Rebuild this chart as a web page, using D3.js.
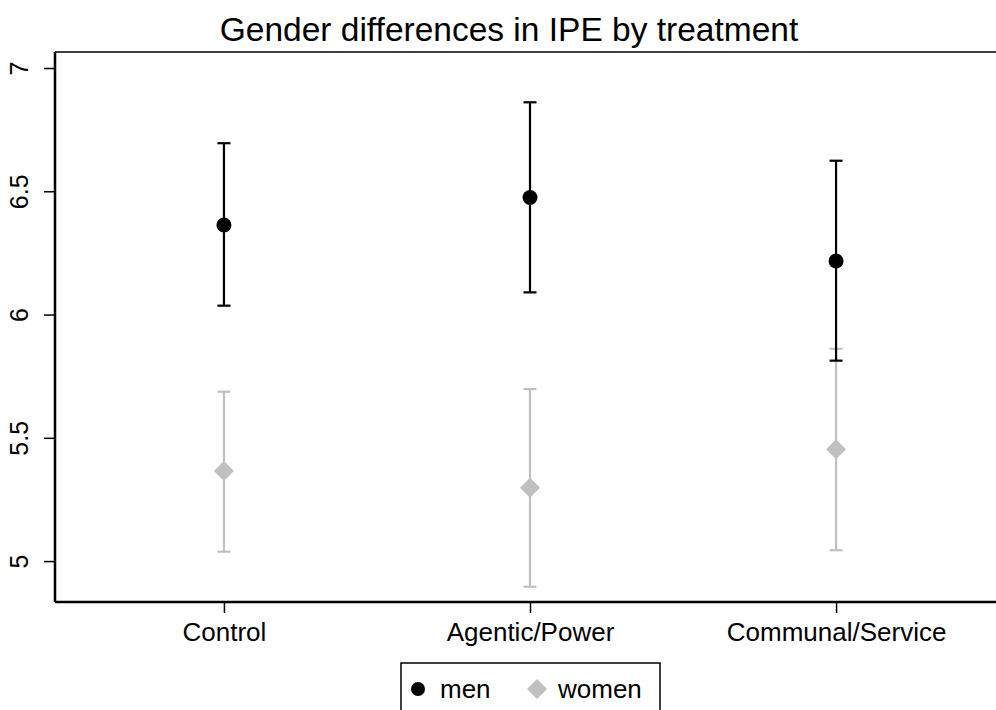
<!DOCTYPE html>
<html>
<head>
<meta charset="utf-8">
<script src="https://cdn.jsdelivr.net/npm/d3@7"></script>
<style>
  body { margin: 0; background: #fff; }
  text { font-family: "Liberation Sans", Arial, Helvetica, sans-serif; fill: #000; }
</style>
</head>
<body>
<div id="chart"></div>
<script>
///// Data

let categories = ["Control", "Agentic/Power", "Communal/Service"];

let menMean = [6.363, 6.475, 6.217],
    menLow = [6.036, 6.090, 5.813],
    menHigh = [6.695, 6.861, 6.624];

let womenMean = [5.365, 5.297, 5.454],
    womenLow = [5.038, 4.896, 5.044],
    womenHigh = [5.687, 5.698, 5.861];

let yTicks = [5, 5.5, 6, 6.5, 7];

///// Layout

let width = 996, height = 710;
let plot = { left: 55, right: 1005, top: 52, bottom: 602 };

let x = d3.scalePoint()
    .domain(categories)
    .range([plot.left, plot.right])
    .padding(0.552);

let y = d3.scaleLinear()
    .domain([4.834, 7.065])
    .range([plot.bottom, plot.top]);

let svg = d3.select("#chart")
    .append("svg")
    .attr("width", width)
    .attr("height", height);

// title
svg.append("text")
    .attr("x", 509)
    .attr("y", 41)
    .attr("text-anchor", "middle")
    .style("font-size", "33.5px")
    .text("Gender differences in IPE by treatment");

// top frame line
svg.append("line")
    .attr("x1", plot.left).attr("x2", width)
    .attr("y1", plot.top).attr("y2", plot.top)
    .attr("stroke", "#000").attr("stroke-width", 1.5);

// Y axis
let yAxis = svg.append("g")
    .attr("transform", "translate(" + plot.left + ",0)")
    .call(d3.axisLeft(y).tickValues(yTicks).tickSize(11).tickPadding(6).tickFormat(d3.format("")));
yAxis.select(".domain").attr("d", "M0," + plot.top + "V" + plot.bottom).attr("stroke-width", 2.5);
yAxis.selectAll(".tick line").attr("stroke-width", 1.5);
yAxis.selectAll(".tick text")
    .attr("x", null).attr("dy", null)
    .attr("transform", "translate(-27,0) rotate(-90)")
    .attr("text-anchor", "middle")
    .style("font-size", "25px");

// X axis
let xAxis = svg.append("g")
    .attr("transform", "translate(0," + plot.bottom + ")")
    .call(d3.axisBottom(x).tickSize(11).tickPadding(6));
xAxis.select(".domain").attr("d", "M" + plot.left + ",0H" + width).attr("stroke-width", 2.5);
xAxis.selectAll(".tick line").attr("stroke-width", 1.5);
xAxis.selectAll(".tick text")
    .attr("dy", null).attr("y", 39)
    .style("font-size", "26px");

///// Error bars and markers

let capHalf = 6.5;

function drawSeries(mean, low, high, color, cls) {
    let g = svg.append("g").attr("class", cls);
    let rows = categories.map(function(c, i) { return { c: c, m: mean[i], lo: low[i], hi: high[i] }; });

    g.selectAll(".bar").data(rows).enter().append("line")
        .attr("x1", function(d) { return x(d.c); })
        .attr("x2", function(d) { return x(d.c); })
        .attr("y1", function(d) { return y(d.lo); })
        .attr("y2", function(d) { return y(d.hi); })
        .attr("stroke", color).attr("stroke-width", 2.2);

    ["lo", "hi"].forEach(function(k) {
        g.selectAll(".cap" + k).data(rows).enter().append("line")
            .attr("x1", function(d) { return x(d.c) - capHalf; })
            .attr("x2", function(d) { return x(d.c) + capHalf; })
            .attr("y1", function(d) { return y(d[k]); })
            .attr("y2", function(d) { return y(d[k]); })
            .attr("stroke", color).attr("stroke-width", 2.2);
    });
    return { g: g, rows: rows };
}

let women = drawSeries(womenMean, womenLow, womenHigh, "#c0c0c0", "women");
let men = drawSeries(menMean, menLow, menHigh, "#000", "men");

let diamond = function(cx, cy, r) {
    return "M" + cx + "," + (cy - r) + "L" + (cx + r) + "," + cy + "L" + cx + "," + (cy + r) + "L" + (cx - r) + "," + cy + "Z";
};

women.g.selectAll(".pt").data(women.rows).enter().append("path")
    .attr("d", function(d) { return diamond(x(d.c), y(d.m), 10); })
    .attr("fill", "#c0c0c0");

men.g.selectAll(".pt").data(men.rows).enter().append("circle")
    .attr("cx", function(d) { return x(d.c); })
    .attr("cy", function(d) { return y(d.m); })
    .attr("r", 7.5)
    .attr("fill", "#000");

///// Legend

let legend = svg.append("g");
legend.append("rect")
    .attr("x", 401).attr("y", 663)
    .attr("width", 259).attr("height", 60)
    .attr("fill", "#fff").attr("stroke", "#000").attr("stroke-width", 1.5);
legend.append("circle")
    .attr("cx", 418).attr("cy", 689).attr("r", 7)
    .attr("fill", "#000");
legend.append("text")
    .attr("x", 440).attr("y", 698)
    .style("font-size", "26px")
    .text("men");
legend.append("path")
    .attr("d", diamond(537, 689, 10))
    .attr("fill", "#c0c0c0");
legend.append("text")
    .attr("x", 558).attr("y", 698)
    .style("font-size", "26px")
    .text("women");
</script>
</body>
</html>
